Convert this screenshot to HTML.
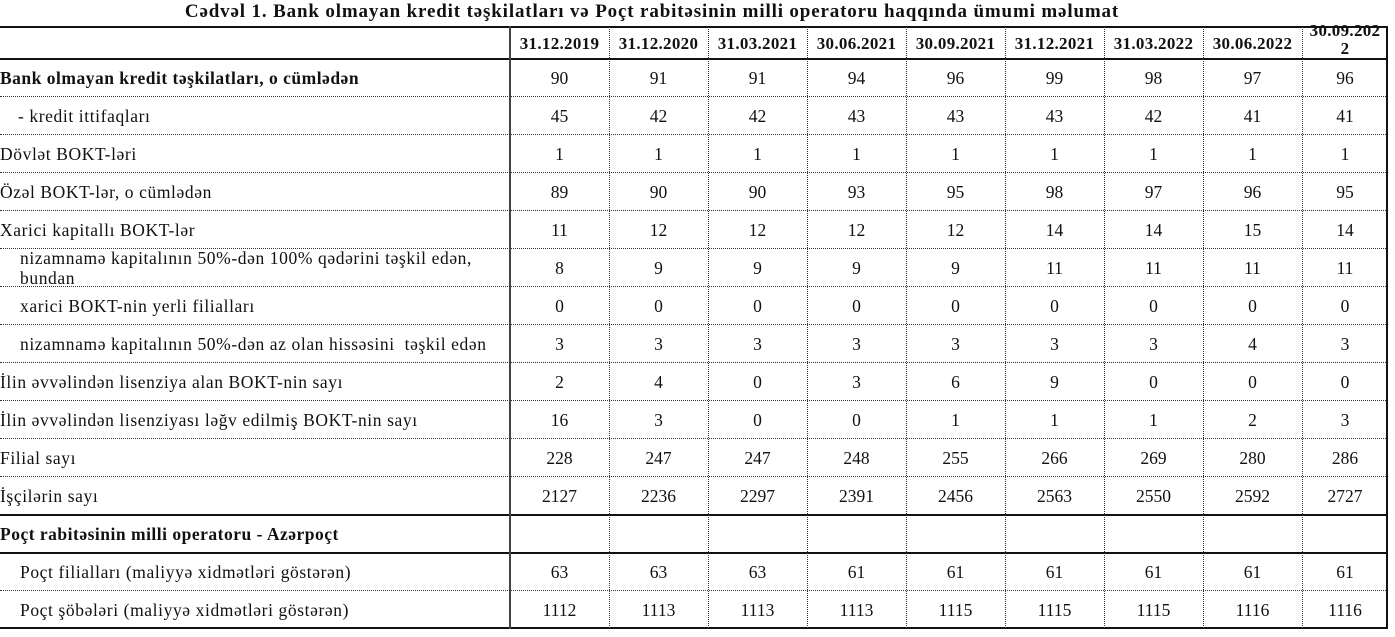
<!DOCTYPE html>
<html><head><meta charset="utf-8"><style>
body{margin:0;width:1395px;height:637px;background:#fff;overflow:hidden;font-family:"Liberation Serif",serif;color:#111;position:relative}
.t{position:absolute;left:0;top:1px;width:1304px;text-align:center;font-weight:bold;font-size:19px;letter-spacing:0.85px;white-space:nowrap}
.h{position:absolute;height:2px;background:#111;left:0;width:1388px}
.d{position:absolute;height:0;border-top:1px dotted #333;left:0;width:1388px}
.v{position:absolute;width:0;border-left:1px dotted #333}
.c{position:absolute;font-size:17.5px;text-align:center;width:99px;line-height:38px}
.l{position:absolute;font-size:17.5px;letter-spacing:0.6px;line-height:38px;white-space:nowrap}
.b{font-weight:bold;letter-spacing:0.5px}
.hd{font-weight:bold;font-size:17px;letter-spacing:0.3px}
</style></head><body>
<div class="t">Cədvəl 1. Bank olmayan kredit təşkilatları və Poçt rabitəsinin milli operatoru haqqında ümumi məlumat</div>
<div class="h" style="top:26px"></div>
<div class="h" style="top:58px"></div>
<div class="h" style="top:514px"></div>
<div class="h" style="top:552px"></div>
<div class="h" style="top:627px"></div>
<div id="g"></div>
<div style="position:absolute;left:509px;top:26px;width:2px;height:603px;background:#444"></div>
<div style="position:absolute;left:1386px;top:26px;width:2px;height:603px;background:#111"></div>
<script>
var cols=[510,609,708,807,906,1005,1104,1203,1302];
var hdr=["31.12.2019","31.12.2020","31.03.2021","30.06.2021","30.09.2021","31.12.2021","31.03.2022","30.06.2022"];
var rows=[
["Bank olmayan kredit təşkilatları, o cümlədən",0,1,[90,91,91,94,96,99,98,97,96]],
["- kredit ittifaqları",18,0,[45,42,42,43,43,43,42,41,41]],
["Dövlət BOKT-ləri",0,0,[1,1,1,1,1,1,1,1,1]],
["Özəl BOKT-lər, o cümlədən",0,0,[89,90,90,93,95,98,97,96,95]],
["Xarici kapitallı BOKT-lər",0,0,[11,12,12,12,12,14,14,15,14]],
["",20,0,[8,9,9,9,9,11,11,11,11]],
["xarici BOKT-nin yerli filialları",20,0,[0,0,0,0,0,0,0,0,0]],
["nizamnamə kapitalının 50%-dən az olan hissəsini&nbsp; təşkil edən",20,0,[3,3,3,3,3,3,3,4,3]],
["İlin əvvəlindən lisenziya alan BOKT-nin sayı",0,0,[2,4,0,3,6,9,0,0,0]],
["İlin əvvəlindən lisenziyası ləğv edilmiş BOKT-nin sayı",0,0,[16,3,0,0,1,1,1,2,3]],
["Filial sayı",0,0,[228,247,247,248,255,266,269,280,286]],
["İşçilərin sayı",0,0,[2127,2236,2297,2391,2456,2563,2550,2592,2727]],
["Poçt rabitəsinin milli operatoru - Azərpoçt",0,1,null],
["Poçt filialları (maliyyə xidmətləri göstərən)",20,0,[63,63,63,61,61,61,61,61,61]],
["Poçt şöbələri (maliyyə xidmətləri göstərən)",20,0,[1112,1113,1113,1113,1115,1115,1115,1116,1116]]];
var h="";
for(var i=1;i<cols.length;i++)h+='<div class="v" style="left:'+cols[i]+'px;top:27px;height:601px"></div>';
for(var i=0;i<8;i++)h+='<div class="c hd" style="left:'+cols[i]+'px;top:26px;line-height:36px">'+hdr[i]+'</div>';
h+='<div class="c hd" style="left:1302px;top:22px;line-height:18px;width:86px;height:36px;overflow:hidden">30.09.202<br>2</div>';
for(var r=0;r<rows.length;r++){var y=59+r*38;var R=rows[r];
 if(r>0&&r!=12&&r!=13)h+='<div class="d" style="top:'+(y-1)+'px"></div>';
 if(r==5)h+='<div class="l" style="left:20px;top:'+(y-1)+'px;line-height:20px">nizamnamə kapitalının 50%-dən 100% qədərini təşkil edən,<br>bundan</div>';
 else h+='<div class="l'+(R[2]?' b':'')+'" style="left:'+R[1]+'px;top:'+y+'px">'+R[0]+'</div>';
 if(R[3])for(var k=0;k<9;k++)h+='<div class="c" style="left:'+cols[k]+'px;top:'+y+'px;'+(k==8?'width:86px':'')+'">'+R[3][k]+'</div>';}
document.getElementById('g').innerHTML=h;
</script>
</body></html>
